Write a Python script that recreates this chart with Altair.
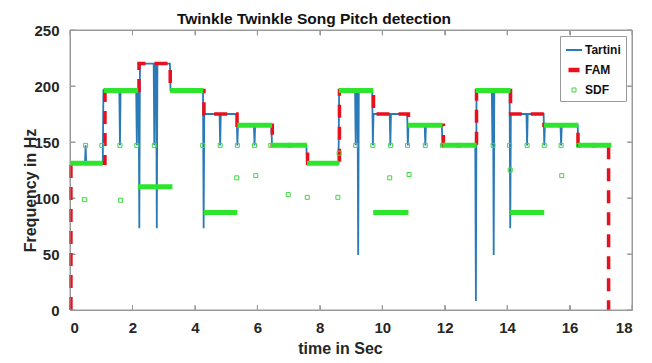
import altair as alt
import pandas as pd

series_names = ["Tartini", "FAM", "SDF"]
series_colors = ["#2a7ab8", "#e8101c", "#3dd93d"]

tartini_t = [0.00, 0.48, 0.50, 0.52, 1.05, 1.07, 1.58, 1.60, 1.62, 2.12, 2.14, 2.16,
             2.20, 2.22, 2.24, 2.68, 2.70, 2.72, 2.76, 2.78, 2.80, 3.20, 3.22, 4.26,
             4.28, 4.30, 4.79, 4.81, 4.83, 5.34, 5.36, 5.38, 5.89, 5.91, 5.93, 6.45,
             6.47, 7.57, 7.59, 8.60, 8.62, 9.13, 9.15, 9.17, 9.21, 9.23, 9.25, 9.68,
             9.70, 9.72, 10.24, 10.26, 10.28, 10.80, 10.82, 10.84, 11.36, 11.38, 11.40,
             11.91, 11.93, 12.98, 13.00, 13.02, 13.51, 13.53, 13.55, 13.57, 13.59,
             14.08, 14.10, 14.12, 14.62, 14.64, 14.66, 15.17, 15.19, 15.21, 15.71,
             15.73, 15.75, 16.26, 16.28, 17.31]
tartini_f = [131, 131, 147, 131, 131, 196, 196, 147, 196, 196, 147, 196,
             196, 73, 220, 220, 147, 220, 220, 73, 220, 220, 196, 196,
             73, 175, 175, 147, 175, 175, 147, 165, 165, 147, 165, 165,
             147, 147, 131, 131, 196, 196, 147, 196, 196, 49, 196, 196,
             147, 175, 175, 147, 175, 175, 147, 165, 165, 147, 165,
             165, 147, 147, 8, 196, 196, 147, 196, 49, 196,
             196, 73, 175, 175, 147, 175, 175, 147, 165, 165,
             147, 165, 165, 147, 147]

fam_t = [0.03, 0.03, 1.12, 1.12, 2.21, 2.21, 3.21, 3.21, 4.29, 4.29, 5.35, 5.35,
         6.48, 6.48, 7.61, 7.61, 8.63, 8.63, 9.72, 9.72, 10.84, 10.84, 11.96, 11.96,
         13.02, 13.02, 14.11, 14.11, 15.18, 15.18, 16.27, 16.27, 17.25, 17.25]
fam_f = [0, 131, 131, 196, 196, 220, 220, 196, 196, 175, 175, 165,
         165, 147, 147, 131, 131, 196, 196, 175, 175, 165, 165, 147,
         147, 196, 196, 175, 175, 165, 165, 147, 147, 0]

# SDF: runs of densely packed detections (start, end, frequency)
sdf_run_start = [0.00, 1.08, 2.17, 3.21, 4.28, 5.36, 6.43, 7.59, 8.61, 9.71, 10.82, 11.93, 12.99, 14.10, 15.18, 16.27]
sdf_run_end = [1.05, 2.18, 3.28, 4.27, 5.36, 6.47, 7.59, 8.61, 9.71, 10.84, 11.93, 13.02, 14.11, 15.19, 16.28, 17.34]
sdf_run_f = [131, 196, 110, 196, 87, 165, 147, 131, 196, 87, 165, 147, 196, 87, 165, 147]

# SDF: isolated detections
sdf_t = [0.50, 1.02, 1.60, 2.14, 2.70, 4.25, 4.81, 5.36, 5.91, 6.43, 7.03, 9.15, 9.70,
         10.27, 10.81, 11.38, 11.93, 12.45, 13.55, 14.08, 14.64, 15.19, 15.73, 16.29, 16.79,
         0.46, 1.62, 5.34, 5.95, 6.99, 7.60, 8.58, 8.62, 10.24, 10.86, 14.10, 15.75]
sdf_f = [147, 147, 147, 147, 147, 147, 147, 147, 147, 147, 147, 147, 147,
         147, 147, 147, 147, 147, 147, 147, 147, 147, 147, 147, 147,
         98.5, 98, 118, 120, 103, 100.6, 100.6, 140, 118, 121, 125, 120]

x_ticks = [0, 2, 4, 6, 8, 10, 12, 14, 16, 18]
y_ticks = [0, 50, 100, 150, 200, 250]
x_limits = [0, 18]
y_limits = [0, 250]

tart_df = pd.DataFrame({"t": tartini_t, "f": tartini_f, "i": list(range(len(tartini_t)))})
fam_df = pd.DataFrame({"t": fam_t, "f": fam_f, "i": list(range(len(fam_t)))})
run_df = pd.DataFrame({"t0": sdf_run_start, "t1": sdf_run_end, "f": sdf_run_f})
pts_df = pd.DataFrame({"t": sdf_t, "f": sdf_f, "series": ["SDF"] * len(sdf_t)})
hline_df = pd.DataFrame({"x0": [x_limits[0], x_limits[0]], "x1": [x_limits[1], x_limits[1]], "y": y_limits})
vline_df = pd.DataFrame({"y0": [y_limits[0], y_limits[0]], "y1": [y_limits[1], y_limits[1]], "x": x_limits})
xt_df = pd.DataFrame({"t": x_ticks})
yt_df = pd.DataFrame({"f": y_ticks})

FONT = "Liberation Sans"
FRAME = "#9a9a9a"
W, H = 562, 280
TICK = 5
xs = alt.Scale(domain=x_limits, nice=False, zero=False)
ys = alt.Scale(domain=y_limits, nice=False, zero=False)

common_axis = dict(domain=False, grid=False, ticks=True, tickSize=5, offset=-5,
                   tickColor=FRAME, tickWidth=1, tickOpacity=1,
                   labelFont=FONT, labelFontSize=15, labelFontWeight="bold",
                   labelColor="#262626",
                   titleFont=FONT, titleFontSize=16, titleFontWeight="bold",
                   titleColor="#262626")

x_axis_bottom = alt.Axis(orient="bottom", values=x_ticks, format="d", labelPadding=10,
                         title="time in Sec", titleX=270, titleY=43,
                         titleAlign="center", titleBaseline="middle", **common_axis)
y_axis_left = alt.Axis(orient="left", values=y_ticks, format="d", labelPadding=11,
                       title="Frequency in Hz", titleX=-45, titleY=160, titleAngle=-90,
                       titleAlign="center", titleBaseline="middle", **common_axis)
x_axis_top = alt.Axis(orient="top", values=x_ticks, labels=False, domain=False, grid=False,
                      tickSize=5, offset=-5, tickColor=FRAME, tickWidth=1, tickOpacity=1)
y_axis_right = alt.Axis(orient="right", values=y_ticks, labels=False, domain=False, grid=False,
                        tickSize=5, offset=-5, tickColor=FRAME, tickWidth=1, tickOpacity=1)

# inward tick marks on all four sides, placed by the scales
tick_bottom = alt.Chart(xt_df).mark_rule(color=FRAME, strokeWidth=1).encode(
    x=alt.X("t:Q", scale=xs, axis=None), y=alt.value(H), y2=alt.value(H - TICK))
tick_top = alt.Chart(xt_df).mark_rule(color=FRAME, strokeWidth=1).encode(
    x=alt.X("t:Q", scale=xs, axis=None), y=alt.value(0), y2=alt.value(TICK))
tick_left = alt.Chart(yt_df).mark_rule(color=FRAME, strokeWidth=1).encode(
    y=alt.Y("f:Q", scale=ys, axis=None), x=alt.value(0), x2=alt.value(TICK))
tick_right = alt.Chart(yt_df).mark_rule(color=FRAME, strokeWidth=1).encode(
    y=alt.Y("f:Q", scale=ys, axis=None), x=alt.value(W), x2=alt.value(W - TICK))

frame_h = alt.Chart(hline_df).mark_rule(color=FRAME, strokeWidth=1).encode(
    x=alt.X("x0:Q", scale=xs, axis=None),
    x2="x1:Q",
    y=alt.Y("y:Q", scale=ys, axis=None),
)
frame_v = alt.Chart(vline_df).mark_rule(color=FRAME, strokeWidth=1).encode(
    y=alt.Y("y0:Q", scale=ys, axis=None),
    y2="y1:Q",
    x=alt.X("x:Q", scale=xs, axis=None),
)

tartini = alt.Chart(tart_df).mark_line(strokeWidth=1.8, color=series_colors[0]).encode(
    x=alt.X("t:Q", scale=xs, axis=x_axis_bottom),
    y=alt.Y("f:Q", scale=ys, axis=y_axis_left),
    order=alt.Order("i:Q"),
)

fam = alt.Chart(fam_df).mark_line(strokeWidth=3.5, color=series_colors[1],
                                   strokeDash=[13, 9], strokeCap="butt").encode(
    x=alt.X("t:Q", scale=xs, axis=None),
    y=alt.Y("f:Q", scale=ys, axis=None),
    order=alt.Order("i:Q"),
)

runs = alt.Chart(run_df).mark_rule(strokeWidth=5, color="#2de52d").encode(
    x=alt.X("t0:Q", scale=xs, axis=None),
    x2="t1:Q",
    y=alt.Y("f:Q", scale=ys, axis=None),
)

leg = alt.Legend(title=None, orient="top-right", offset=6, padding=5,
                 fillColor="white", strokeColor="#9a9a9a",
                 labelFont=FONT, labelFontSize=12, labelFontWeight="bold",
                 labelColor="#111111", rowPadding=5, labelOffset=2)

points = alt.Chart(pts_df).mark_point(filled=False, opacity=1).encode(
    x=alt.X("t:Q", scale=xs, axis=x_axis_top, title=None),
    y=alt.Y("f:Q", scale=ys, axis=y_axis_right, title=None),
    color=alt.Color("series:N", scale=alt.Scale(domain=series_names, range=series_colors), legend=leg),
    shape=alt.Shape("series:N", scale=alt.Scale(domain=series_names, range=["stroke", "stroke", "square"]), legend=leg),
    size=alt.Size("series:N", scale=alt.Scale(type="ordinal", domain=series_names, range=[256, 121, 16]), legend=leg),
    strokeWidth=alt.StrokeWidth("series:N", scale=alt.Scale(type="ordinal", domain=series_names, range=[2, 4.5, 1]), legend=leg),
)

chart = alt.layer(tick_bottom, tick_top, tick_left, tick_right,
                  tartini, fam, runs, points, frame_h, frame_v).resolve_axis(
    x="independent", y="independent"
).properties(
    width=W, height=H,
    title=alt.TitleParams("Twinkle Twinkle Song Pitch detection", font=FONT, fontSize=15.5,
                          fontWeight="bold", color="#111111", anchor="middle", dx=-37, dy=9, offset=5),
    autosize=alt.AutoSizeParams(type="none"),
    padding={"left": 62, "top": 22, "right": 12, "bottom": 45},
    background="white",
).configure_view(stroke=FRAME, strokeWidth=1)

chart.save("out.html", embed_options={"renderer": "svg", "actions": False})
